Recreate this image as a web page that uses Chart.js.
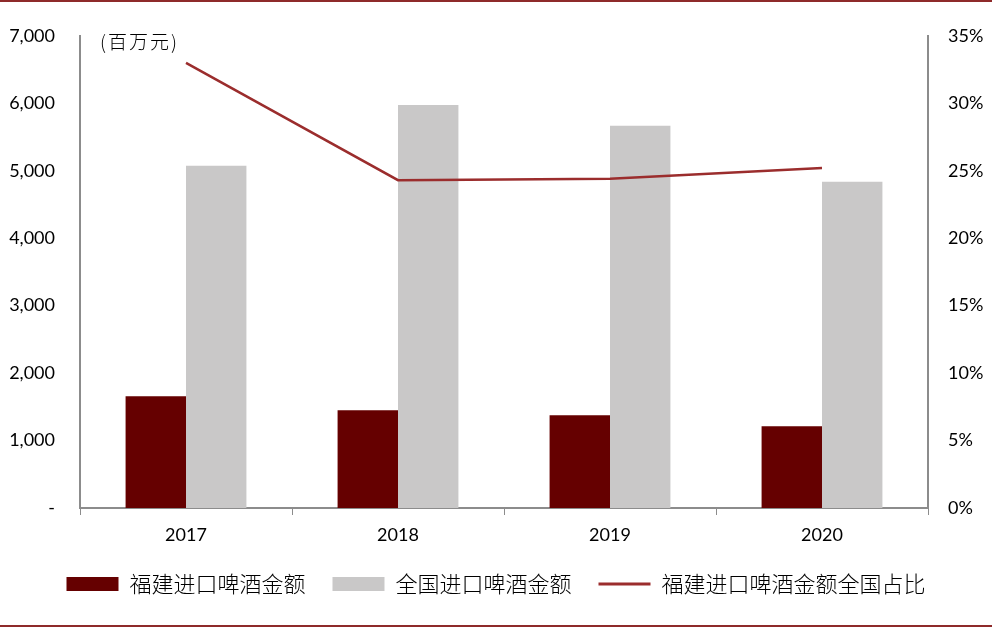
<!DOCTYPE html>
<html lang="zh-CN">
<head>
  <meta charset="UTF-8">
  <title>福建进口啤酒金额</title>
  <script src="https://cdn.jsdelivr.net/npm/chart.js"></script>
  <style>
    html, body { margin: 0; padding: 0; background: #fff; }
    .box { width: 992px; height: 630px; position: relative; }
  </style>
</head>
<body>
<div class="box">
  <canvas id="grafico" width="992" height="630"></canvas>
</div>
<script>
  // dados
  var anos = ['2017', '2018', '2019', '2020'];
  var fujian = [1657, 1450, 1376, 1213];        // 百万元
  var nacional = [5074, 5976, 5666, 4837];      // 百万元
  var participacao = [33.0, 24.3, 24.4, 25.2];  // %
  var unidade = '(百万元)';

  var fonteNum = 'Lato, "Liberation Sans", sans-serif';
  var fonteCJK = '"Noto Sans CJK SC", sans-serif';
  var corEixo = '#8c8c8c';

  // linhas de borda e texto da unidade
  var extras = {
    id: 'extras',
    afterDraw: function (chart) {
      var ctx = chart.ctx;
      ctx.save();
      ctx.strokeStyle = '#8e2a2a';
      ctx.lineWidth = 2;
      ctx.beginPath();
      ctx.moveTo(0, 1); ctx.lineTo(992, 1);
      ctx.moveTo(0, 626); ctx.lineTo(992, 626);
      ctx.stroke();
      ctx.fillStyle = '#000';
      ctx.font = '300 19px ' + fonteCJK;
      ctx.letterSpacing = '2px';
      ctx.textBaseline = 'middle';
      ctx.fillText(unidade, 100, 42);
      ctx.restore();
    }
  };

  new Chart(document.getElementById('grafico'), {
    type: 'bar',
    data: {
      labels: anos,
      datasets: [
        {
          type: 'line',
          label: '福建进口啤酒金额全国占比',
          data: participacao,
          yAxisID: 'y2',
          borderColor: '#9b2d2d',
          backgroundColor: '#9b2d2d',
          borderWidth: 2.5,
          pointRadius: 0,
          tension: 0,
          order: 0
        },
        {
          label: '福建进口啤酒金额',
          data: fujian,
          yAxisID: 'y',
          backgroundColor: '#650000',
          order: 1
        },
        {
          label: '全国进口啤酒金额',
          data: nacional,
          yAxisID: 'y',
          backgroundColor: '#c9c8c8',
          order: 2
        }
      ]
    },
    options: {
      responsive: false,
      animation: false,
      categoryPercentage: 0.57,
      barPercentage: 1.0,
      layout: { padding: { top: 35, left: 0, right: 0, bottom: 25 } },
      plugins: {
        tooltip: { enabled: false },
        legend: {
          position: 'bottom',
          labels: {
            color: '#000',
            font: { family: fonteCJK, size: 22, weight: '300' },
            usePointStyle: true,
            pointStyleWidth: 52,
            boxHeight: 14,
            padding: 5,
            sort: function (a, b) {
              var ordem = [2, 0, 1];
              return ordem[a.datasetIndex] - ordem[b.datasetIndex];
            },
            generateLabels: function (chart) {
              var itens = Chart.defaults.plugins.legend.labels.generateLabels(chart);
              itens.forEach(function (it) {
                if (it.datasetIndex === 0) { it.pointStyle = 'line'; it.lineWidth = 3; }
                else { it.pointStyle = 'rect'; it.lineWidth = 0; it.text += '\u3000'; }
              });
              return itens;
            }
          }
        }
      },
      scales: {
        x: {
          grid: { display: true, drawOnChartArea: false, offset: true, color: corEixo, tickLength: 7, tickWidth: 1 },
          border: { color: corEixo, width: 2 },
          ticks: { color: '#000', font: { family: fonteNum, size: 18 }, padding: 9 },
          afterFit: function (s) { s.height = 60; }
        },
        y: {
          position: 'left',
          min: 0, max: 7000,
          grid: { display: false, drawTicks: false },
          border: { color: corEixo, width: 2 },
          ticks: {
            stepSize: 1000,
            color: '#000',
            font: { family: fonteNum, size: 18 },
            padding: 25,
            callback: function (v) { return v === 0 ? '-' : v.toLocaleString('en-US'); }
          },
          afterFit: function (s) { s.width = 80; }
        },
        y2: {
          position: 'right',
          min: 0, max: 35,
          grid: { display: false, drawTicks: false },
          border: { color: corEixo, width: 2 },
          ticks: {
            stepSize: 5,
            color: '#000',
            font: { family: fonteNum, size: 18 },
            padding: 20,
            callback: function (v) { return v + '%'; }
          },
          afterFit: function (s) { s.width = 64; }
        }
      }
    },
    plugins: [extras]
  });
</script>
</body>
</html>
